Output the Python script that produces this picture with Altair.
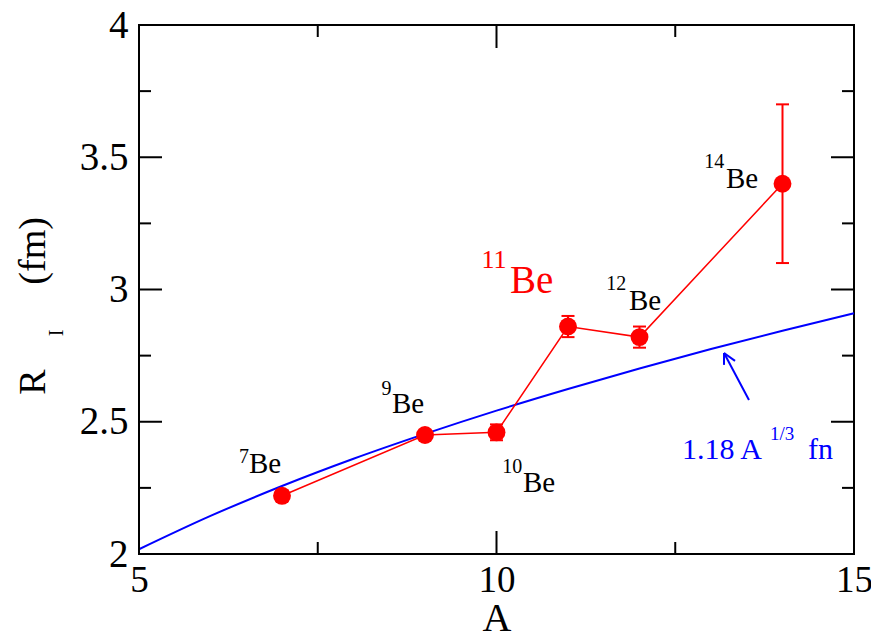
import altair as alt
import pandas as pd

# Measured interaction radii of Be isotopes
A_vals = [7, 9, 10, 11, 12, 14]
R_vals = [2.22, 2.45, 2.46, 2.86, 2.82, 3.40]
R_err = [0.02, 0.01, 0.03, 0.04, 0.04, 0.30]

# 1.18 A^(1/3) curve
fit_A = [5, 6, 7, 8, 9, 10, 11, 12, 13, 14, 15]
fit_R = [2.018, 2.144, 2.257, 2.360, 2.454, 2.542, 2.624, 2.701, 2.775, 2.844, 2.910]

# tick positions
x_major = [5, 10, 15]
x_minor = [7.5, 12.5]
y_major = [2, 2.5, 3, 3.5, 4]
y_minor = [2.25, 2.75, 3.25, 3.75]

# annotation texts (data coordinates)
lab_text = ["7", "Be", "9", "Be", "10", "Be", "12", "Be", "14", "Be",
            "11", "Be",
            "1.18 A", "1/3", "fn"]
lab_x = [6.40, 6.538, 8.39, 8.538, 10.08, 10.371, 11.535, 11.853, 12.906, 13.210,
         9.79, 10.189,
         12.594, 13.825, 14.357]
lab_y = [2.344, 2.306, 2.601, 2.533, 2.306, 2.234, 2.998, 2.922, 3.459, 3.384,
         3.081, 2.987,
         2.359, 2.431, 2.359]
lab_size = [20, 29, 20, 29, 20, 29, 20, 29, 20, 29,
            26, 39,
            30, 19, 30]
lab_color = ["black"] * 10 + ["#ff0000"] * 2 + ["#0000ff"] * 3

# arrow segments
arr_x = [13.531, 13.182, 13.182]
arr_y = [2.582, 2.760, 2.760]
arr_x2 = [13.182, 13.182, 13.336]
arr_y2 = [2.760, 2.715, 2.730]

# y-axis title pieces
yt_text = ["R", "I", "(fm)"]
yt_x = [3.685, 3.937, 3.685]
yt_y = [2.650, 2.836, 3.146]
yt_size = [38, 20, 38]

W, H = 715, 529
FONT = "Liberation Serif, Times New Roman, serif"
xs = alt.Scale(domain=[5, 15], nice=False, zero=False)
ys = alt.Scale(domain=[2, 4], nice=False, zero=False)

data = pd.DataFrame({"A": A_vals, "R": R_vals, "err": R_err})
data["lo"] = data["R"] - data["err"]
data["hi"] = data["R"] + data["err"]
fit = pd.DataFrame({"A": fit_A, "R": fit_R})

x_axis = alt.Axis(values=x_major, format="~g", ticks=False, domain=False, grid=False,
                  labelFont=FONT, labelFontSize=37, labelColor="black", labelPadding=8,
                  labelFlush=False, title="A", titleFont=FONT, titleFontSize=40,
                  titleFontWeight="normal", titleColor="black", titlePadding=0)
y_axis = alt.Axis(values=y_major, format="~g", ticks=False, domain=False, grid=False,
                  labelFont=FONT, labelFontSize=39, labelColor="black", labelPadding=11,
                  title="")


def X(field):
    return alt.X(field, scale=xs, axis=x_axis)


def Y(field):
    return alt.Y(field, scale=ys, axis=y_axis)


fit_line = alt.Chart(fit).mark_line(color="#0000ff", strokeWidth=2, interpolate="monotone").encode(
    x=X("A:Q"), y=Y("R:Q"),
)

data_line = alt.Chart(data).mark_line(color="#ff0000", strokeWidth=1.5).encode(
    x=X("A:Q"), y=Y("R:Q"),
)

err_rule = alt.Chart(data).mark_rule(color="#ff0000", strokeWidth=2).encode(
    x=X("A:Q"), y=Y("lo:Q"), y2="hi:Q",
)

cap_lo = alt.Chart(data).mark_point(shape="M-1,0L1,0", size=169, color="#ff0000",
                                    strokeWidth=2, filled=False, opacity=1).encode(
    x=X("A:Q"), y=Y("lo:Q"),
)
cap_hi = alt.Chart(data).mark_point(shape="M-1,0L1,0", size=169, color="#ff0000",
                                    strokeWidth=2, filled=False, opacity=1).encode(
    x=X("A:Q"), y=Y("hi:Q"),
)

points = alt.Chart(data).mark_circle(size=320, color="#ff0000", opacity=1).encode(
    x=X("A:Q"), y=Y("R:Q"),
)


def xticks(vals, length):
    df = pd.DataFrame({"v": vals})
    bottom = alt.Chart(df).mark_rule(color="black", strokeWidth=2).encode(
        x=X("v:Q"), y=alt.value(H), y2=alt.value(H - length))
    top = alt.Chart(df).mark_rule(color="black", strokeWidth=2).encode(
        x=X("v:Q"), y=alt.value(0), y2=alt.value(length))
    return [bottom, top]


def yticks(vals, length):
    df = pd.DataFrame({"v": vals})
    left = alt.Chart(df).mark_rule(color="black", strokeWidth=2).encode(
        y=Y("v:Q"), x=alt.value(0), x2=alt.value(length))
    right = alt.Chart(df).mark_rule(color="black", strokeWidth=2).encode(
        y=Y("v:Q"), x=alt.value(W), x2=alt.value(W - length))
    return [left, right]


tick_layers = xticks(x_major, 23) + xticks(x_minor, 12) + yticks(y_major, 23) + yticks(y_minor, 12)

labels = pd.DataFrame({"t": lab_text, "x": lab_x, "y": lab_y, "fs": lab_size, "c": lab_color})
label_layer = alt.Chart(labels).mark_text(font=FONT, align="left", baseline="alphabetic").encode(
    x=X("x:Q"), y=Y("y:Q"),
    text="t:N",
    size=alt.Size("fs:Q", scale=None, legend=None),
    color=alt.Color("c:N", scale=None, legend=None),
)

arrow = pd.DataFrame({"x": arr_x, "y": arr_y, "x2": arr_x2, "y2": arr_y2})
arrow_layer = alt.Chart(arrow).mark_rule(color="#0000ff", strokeWidth=2).encode(
    x=X("x:Q"), y=Y("y:Q"), x2="x2:Q", y2="y2:Q",
)

ytitle = pd.DataFrame({"t": yt_text, "x": yt_x, "y": yt_y, "fs": yt_size})
ytitle_layer = alt.Chart(ytitle).mark_text(font=FONT, align="center", baseline="alphabetic",
                                           angle=270, color="black").encode(
    x=X("x:Q"), y=Y("y:Q"),
    text="t:N",
    size=alt.Size("fs:Q", scale=None, legend=None),
)

chart = alt.layer(
    fit_line, data_line, err_rule, cap_lo, cap_hi, points,
    *tick_layers, label_layer, arrow_layer, ytitle_layer,
).properties(
    width=W, height=H,
    padding={"left": 131, "top": 17, "right": 17, "bottom": 78},
    autosize=alt.AutoSizeParams(type="none"),
    background="white",
).configure_view(stroke="black", strokeWidth=2)

chart.save("out.html", embed_options={"renderer": "svg", "actions": False})
